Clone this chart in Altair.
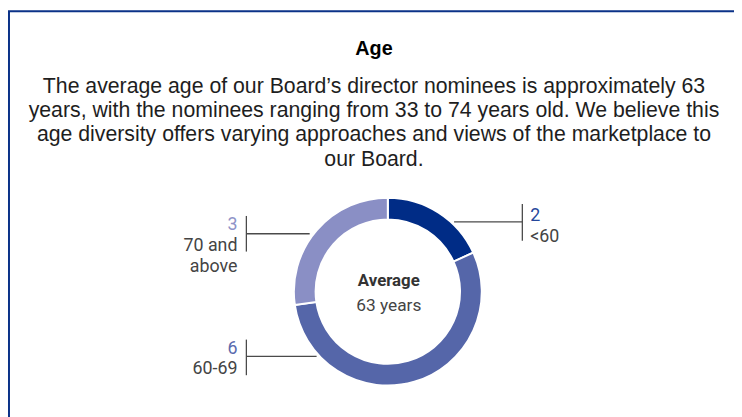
import altair as alt
import pandas as pd

# ---------------- data ----------------
title = "Age"
paragraph = [
    "The average age of our Board\u2019s director nominees is approximately 63",
    "years, with the nominees ranging from 33 to 74 years old. We believe this",
    "age diversity offers varying approaches and views of the marketplace to",
    "our Board.",
]
categories = ["<60", "60-69", "70 and above"]
category_lines = [["<60"], ["60-69"], ["70 and", "above"]]
counts = [2, 6, 3]
center_title = "Average"
center_value = "63 years"

# ---------------- styles / layout ----------------
slice_colors = ["#002C86", "#5566A9", "#8A8FC5"]
number_colors = ["#25479B", "#5A6AAE", "#8E93C8"]
frame_color = "#0B3288"
line_color = "#4A4A4A"
narrow = "Roboto"
regular = "Liberation Sans"

W, H = 734, 409
cx, cy = 384, 284.5
outer_r, inner_r = 95, 73

# per category: text x, align, number baseline, category baseline
label_pos = [
    (528, "left", 213, 234),
    (232, "right", 348, 368),
    (232, "right", 222, 243),
]
# per category: horizontal leader (x1, x2, y), vertical tick (x, y1, y2)
leaders = [
    ((451, 520, 214), (520, 196, 233)),
    ((241, 312, 350), (241, 333, 369)),
    ((241, 305, 226), (241, 208, 244)),
]

one = pd.DataFrame({"k": [0]})
df = pd.DataFrame({"category": categories, "count": counts, "order": list(range(len(categories)))})

layers = []

frame = alt.Chart(one).mark_rect(fill=None, stroke=frame_color, strokeWidth=2).encode(
    x=alt.value(1), x2=alt.value(W + 30), y=alt.value(1), y2=alt.value(H + 30)
)
layers.append(frame)

title_layer = alt.Chart(one).mark_text(
    font=regular, fontSize=20, fontWeight="bold", color="#000000", align="center", baseline="alphabetic"
).encode(x=alt.value(370), y=alt.value(45), text=alt.value(title))
layers.append(title_layer)

para_layer = alt.Chart(one).mark_text(
    font=regular, fontSize=21.5, color="#1E1E1E", align="center", baseline="alphabetic", lineHeight=24.5
).encode(x=alt.value(370), y=alt.value(83.7), text=alt.value(paragraph))
layers.append(para_layer)

donut = alt.Chart(df).mark_arc(
    outerRadius=outer_r, innerRadius=inner_r, stroke="white", strokeWidth=2
).encode(
    theta=alt.Theta("count:Q", stack=True),
    order=alt.Order("order:Q"),
    color=alt.Color("category:N", scale=alt.Scale(domain=categories, range=slice_colors), legend=None),
    x=alt.value(cx),
    y=alt.value(cy),
)
layers.append(donut)

center1 = alt.Chart(one).mark_text(
    font=narrow, fontSize=17, fontWeight="bold", color="#333333", align="center", baseline="alphabetic"
).encode(x=alt.value(cx + 1), y=alt.value(279), text=alt.value(center_title))
center2 = alt.Chart(one).mark_text(
    font=narrow, fontSize=17.5, color="#444444", align="center", baseline="alphabetic"
).encode(x=alt.value(cx + 1), y=alt.value(304), text=alt.value(center_value))
layers += [center1, center2]

for i, cat in enumerate(categories):
    (hx1, hx2, hy), (vx, vy1, vy2) = leaders[i]
    layers.append(
        alt.Chart(one).mark_rule(color=line_color, strokeWidth=1.3).encode(
            x=alt.value(hx1), x2=alt.value(hx2), y=alt.value(hy)
        )
    )
    layers.append(
        alt.Chart(one).mark_rule(color=line_color, strokeWidth=1.3).encode(
            x=alt.value(vx), y=alt.value(vy1), y2=alt.value(vy2)
        )
    )
    tx, al, nb, cb = label_pos[i]
    layers.append(
        alt.Chart(one).mark_text(
            font=narrow, fontSize=18, color=number_colors[i], align=al, baseline="alphabetic"
        ).encode(x=alt.value(tx), y=alt.value(nb), text=alt.value(str(counts[i])))
    )
    layers.append(
        alt.Chart(one).mark_text(
            font=narrow, fontSize=18, color="#444444", align=al, baseline="alphabetic", lineHeight=22
        ).encode(x=alt.value(tx), y=alt.value(cb), text=alt.value(category_lines[i]))
    )

chart = (
    alt.layer(*layers)
    .properties(width=W, height=H, autosize=alt.AutoSizeParams(type="none"), padding=0)
    .configure_view(stroke=None)
)

chart.save("out.html", embed_options={"renderer": "svg", "actions": False})
